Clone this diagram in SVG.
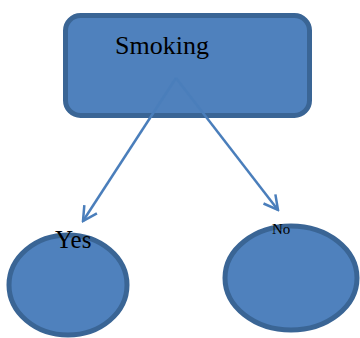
<svg xmlns="http://www.w3.org/2000/svg" width="360" height="338" viewBox="0 0 360 338">
<style>
.shape{fill:#4f81bd;stroke:#3a6595;stroke-width:5}
.lbl{font-family:"Liberation Serif","Times New Roman",serif;fill:#000}
.conn{stroke:#4a7ebb;stroke-width:2.5;fill:none}
</style>
<defs>
<marker id="arr" viewBox="0 0 18 18" refX="16" refY="9" markerWidth="18" markerHeight="18" markerUnits="userSpaceOnUse" orient="auto">
<polyline points="2,1.5 16,9 2,16.5" fill="none" stroke="#4a7ebb" stroke-width="2.5" stroke-linejoin="miter"/>
</marker>
</defs>
<rect width="360" height="338" fill="#fff"/>
<g id="smoking">
<rect class="shape" x="65.5" y="15.5" width="244" height="100" rx="15" ry="15"/>
<text class="lbl" x="115" y="54" font-size="26">Smoking</text>
</g>
<g id="yes">
<ellipse class="shape" cx="68" cy="285" rx="59" ry="50"/>
<text class="lbl" x="55" y="248" font-size="25">Yes</text>
</g>
<g id="no">
<ellipse class="shape" cx="291" cy="278" rx="66" ry="52"/>
<text class="lbl" x="272" y="234" font-size="15">No</text>
</g>
<g id="connectors">
<line class="conn" x1="176" y1="78" x2="83" y2="221" marker-end="url(#arr)"/>
<line class="conn" x1="176" y1="78" x2="278" y2="210" marker-end="url(#arr)"/>
</g>
</svg>
